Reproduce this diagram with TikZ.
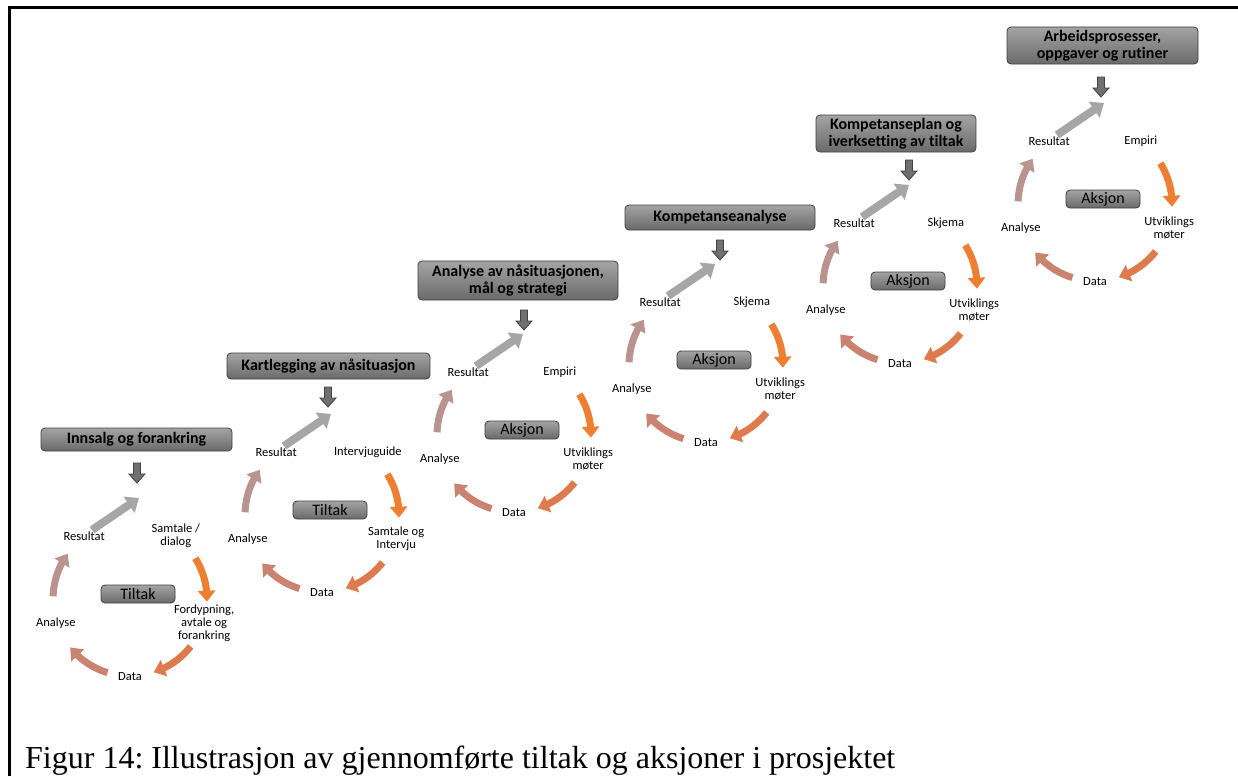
\documentclass[tikz,border=0pt]{standalone}
\usepackage{fontspec}
\setmainfont{Carlito}[Ligatures=NoCommon]
\newfontfamily\capfont{Liberation Serif}
\usepackage{tikz}
\usetikzlibrary{arrows.meta,bending,calc}
\frenchspacing
\definecolor{cyrim}    {HTML}{3F3F3F}
\definecolor{cyboxtop} {HTML}{A4A4A4}
\definecolor{cyboxbot} {HTML}{6A6A6A}
\definecolor{cydark}   {HTML}{707070}
\definecolor{cyout}    {HTML}{A6A6A6}
\definecolor{cyorange} {HTML}{EE7E32}
\definecolor{cyrust}   {HTML}{DE7B4E}
\definecolor{cyclay}   {HTML}{C9836F}
\definecolor{cymauve}  {HTML}{B9948F}
\tikzset{
  cytitle/.style={draw=cyrim, top color=cyboxtop, bottom color=cyboxbot, rounded corners=4pt,
                  line width=0.8pt, inner sep=0pt, align=center,
                  font=\bfseries\fontsize{16}{17}\selectfont},
  cybox/.style={cytitle, minimum width=74pt, minimum height=18pt,
                font=\fontsize{16}{17}\selectfont},
  cylabel/.style={inner sep=0pt, align=center, font=\fontsize{12.5}{13}\selectfont},
  cyarc/.style={line width=7pt, -{Triangle[width=17pt,length=11pt]}},
  cyup/.style={line width=8pt, draw=cyout, -{Triangle[width=19pt,length=12pt]}},
  cydown/.style={draw=cyrim, fill=cydark, line width=0.8pt},
  cyframe/.style={line width=3pt},
}

\begin{document}
\begin{tikzpicture}[x=1pt,y=1pt]
  \useasboundingbox (0,0) rectangle (1238,-776);
  \draw[cyframe] (9.5,-776) -- (9.5,-7.5) -- (1238,-7.5);
  % stage titles
  \node[cytitle, minimum width=191pt, minimum height=23pt] (t1) at (136.5,-439.5) {Innsalg og forankring};
  \node[cytitle, minimum width=203pt, minimum height=26pt] (t2) at (328.5,-366) {Kartlegging av nåsituasjon};
  \node[cytitle, minimum width=200pt, minimum height=39pt] (t3) at (518,-280.5) {Analyse av nåsituasjonen,\\mål og strategi};
  \node[cytitle, minimum width=190pt, minimum height=25pt] (t4) at (720,-217.5) {Kompetanseanalyse};
  \node[cytitle, minimum width=160pt, minimum height=37pt] (t5) at (896,-133.5) {Kompetanseplan og\\iverksetting av tiltak};
  \node[cytitle, minimum width=191pt, minimum height=37pt] (t6) at (1102.5,-45.5) {Arbeidsprosesser,\\oppgaver og rutiner};
  % one cycle per stage
  \foreach \i/\cx/\cy/\dx/\dy/\second/\third/\act in {
      1/130/599/137/473/{Samtale /\\dialog}/{Fordypning,\\avtale og\\forankring}/Tiltak,
      2/322/515/328/397/Intervjuguide/{Samtale og\\Intervju}/Tiltak,
      3/514/435/524/320/Empiri/{Utviklings\\møter}/Aksjon,
      4/706/365/720/250/Skjema/{Utviklings\\møter}/Aksjon,
      5/900/286/909/170/Skjema/{Utviklings\\møter}/Aksjon,
      6/1095/204/1101/87/Empiri/{Utviklings\\møter}/Aksjon}{
    \coordinate (c\i) at (\cx,-\cy);
    \node[cylabel] (res\i)  at ($(c\i)+(126:78)$) {Resultat};
    \node[cylabel] (in\i)   at ($(c\i)+(54:78)$)  {\second};
    \node[cylabel] (out\i)  at ($(c\i)+(-18:78)$) {\third};
    \node[cylabel] (data\i) at ($(c\i)+(-90:78)$) {Data};
    \node[cylabel] (ana\i)  at ($(c\i)+(198:78)$) {Analyse};
    \node[cybox] (act\i) at ($(c\i)+(8,5)$) {\act};
    \draw[cyarc,cyorange] ($(c\i)+(32:77)$)   arc[start angle=32,  end angle=-2,   radius=77];
    \draw[cyarc,cyrust]   ($(c\i)+(-38:77)$)  arc[start angle=-38, end angle=-72,  radius=77];
    \draw[cyarc,cyclay]   ($(c\i)+(-107:77)$) arc[start angle=-107,end angle=-141, radius=77];
    \draw[cyarc,cymauve]  ($(c\i)+(178:77)$)  arc[start angle=178, end angle=144,  radius=77];
    \draw[cyup] ($(c\i)+(-38,69)$) -- ($(c\i)+(9,101)$);
    \coordinate (dn\i) at (\dx,-\dy);
    \draw[cydown] (dn\i) ++(-3.5,10) -- ++(7,0) -- ++(0,-11) -- ++(4.5,0) -- ++(-8,-9)
                  -- ++(-8,9) -- ++(4.5,0) -- cycle;
  }
  \node[anchor=base west, inner sep=0pt, font=\capfont\fontsize{32}{36}\selectfont] (cap) at (25,-768)
    {Figur 14: Illustrasjon av gjennomførte tiltak og aksjoner i prosjektet};
\end{tikzpicture}
\end{document}
